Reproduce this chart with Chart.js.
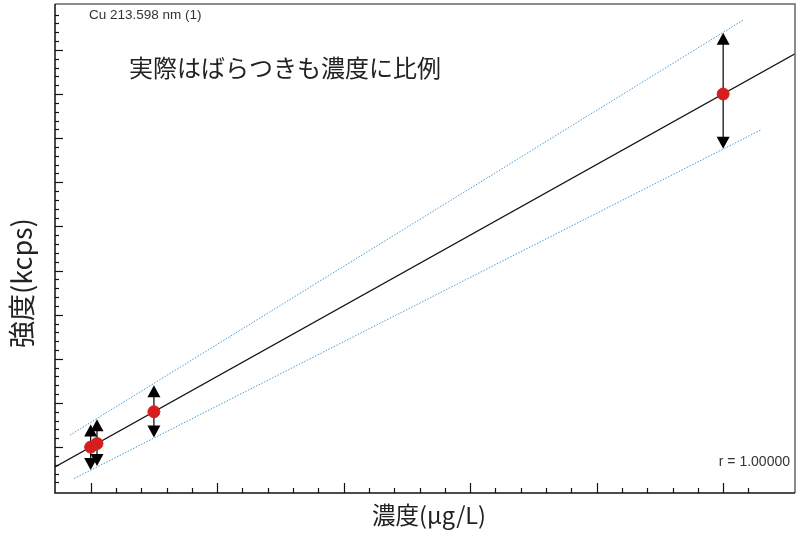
<!DOCTYPE html>
<html>
<head>
<meta charset="utf-8">
<script src="https://cdn.jsdelivr.net/npm/chart.js@4/dist/chart.umd.min.js"></script>
<style>
html,body{margin:0;padding:0;background:#fff;}
#wrap{width:800px;height:544px;position:relative;}
</style>
</head>
<body>
<div id="wrap"><canvas id="c" width="800" height="544"></canvas></div>
<script>
// ---- data ----
const concentrations = [0, 0.05, 0.5, 5];          // μg/L
const intensities    = [10, 10.8, 18, 90];          // kcps
const upperVar       = [15.1, 16.3, 24.0, 103.9];   // arrow tips (up)
const lowerVar       = [4.8, 5.7, 12.2, 77.6];      // arrow tips (down)

const fitX   = [-0.282, 5.568];
const fitY   = [5.49, 99.1];
const upperBandX = [-0.164, 5.16];
const upperBandY = [12.7, 106.8];
const lowerBandX = [-0.13, 5.3];
const lowerBandY = [2.88, 81.9];

const xRange = [-0.282, 5.568];
const yRange = [-0.4, 110.4];
const xMinorStep = 0.2, xMajorStep = 1;
const yMinorStep = 2,   yMajorStep = 10;

const titleText = '実際はばらつきも濃度に比例';
const lineLabel = 'Cu 213.598 nm (1)';
const rLabel = 'r = 1.00000';
const xTitle = '濃度(μg/L)';
const yTitle = '強度(kcps)';

const pts = (xs, ys) => xs.map((x, i) => ({x, y: ys[i]}));

const jp = '"Noto Sans CJK JP", "Noto Sans", sans-serif';

const decor = {
  id: 'decor',
  beforeDatasetsDraw(chart) {
    const {ctx} = chart;
    const xs = chart.scales.x, ys = chart.scales.y;
    ctx.save();
    ctx.strokeStyle = '#000';
    ctx.fillStyle = '#000';
    ctx.lineWidth = 1.2;
    const headH = 12, headW = 6.5;
    concentrations.forEach((c, i) => {
      const px = xs.getPixelForValue(c);
      const pu = ys.getPixelForValue(upperVar[i]);
      const pl = ys.getPixelForValue(lowerVar[i]);
      ctx.beginPath();
      ctx.moveTo(px, pu + headH - 1);
      ctx.lineTo(px, pl - headH + 1);
      ctx.stroke();
      ctx.beginPath();
      ctx.moveTo(px, pu);
      ctx.lineTo(px - headW, pu + headH);
      ctx.lineTo(px + headW, pu + headH);
      ctx.closePath();
      ctx.fill();
      ctx.beginPath();
      ctx.moveTo(px, pl);
      ctx.lineTo(px - headW, pl - headH);
      ctx.lineTo(px + headW, pl - headH);
      ctx.closePath();
      ctx.fill();
    });
    ctx.restore();
  },
  afterDraw(chart) {
    const {ctx, chartArea: a} = chart;
    const xs = chart.scales.x, ys = chart.scales.y;
    ctx.save();
    // frame top / right
    ctx.strokeStyle = '#666';
    ctx.lineWidth = 1.5;
    ctx.beginPath();
    ctx.moveTo(a.left, a.top);
    ctx.lineTo(a.right, a.top);
    ctx.lineTo(a.right, a.bottom);
    ctx.stroke();
    // axes left / bottom
    ctx.strokeStyle = '#111';
    ctx.lineWidth = 1.5;
    ctx.beginPath();
    ctx.moveTo(a.left, a.top);
    ctx.lineTo(a.left, a.bottom);
    ctx.lineTo(a.right, a.bottom);
    ctx.stroke();
    // inward ticks
    ctx.lineWidth = 1.2;
    const near = (v, s) => Math.abs(v / s - Math.round(v / s)) < 1e-6;
    xs.ticks.forEach(t => {
      if (!near(t.value, xMinorStep)) return;
      const px = Math.round(xs.getPixelForValue(t.value)) + 0.5;
      const len = near(t.value, xMajorStep) ? 10 : 5;
      ctx.beginPath();
      ctx.moveTo(px, a.bottom);
      ctx.lineTo(px, a.bottom - len);
      ctx.stroke();
    });
    ys.ticks.forEach(t => {
      if (!near(t.value, yMinorStep)) return;
      const py = Math.round(ys.getPixelForValue(t.value)) + 0.5;
      const len = near(t.value, yMajorStep) ? 8 : 4;
      ctx.beginPath();
      ctx.moveTo(a.left, py);
      ctx.lineTo(a.left + len, py);
      ctx.stroke();
    });
    // texts
    ctx.fillStyle = '#333';
    ctx.font = '13.5px "Liberation Sans", Arial, sans-serif';
    ctx.textBaseline = 'middle';
    ctx.textAlign = 'left';
    ctx.fillText(lineLabel, 89, 15);
    ctx.font = '14px "Liberation Sans", Arial, sans-serif';
    ctx.textAlign = 'right';
    ctx.fillText(rLabel, 790, 462);
    ctx.fillStyle = '#222';
    ctx.font = '24px ' + jp;
    ctx.textAlign = 'left';
    ctx.fillText(titleText, 129, 68);
    ctx.font = '23.5px ' + jp;
    ctx.textAlign = 'center';
    ctx.fillText(xTitle, 429, 515);
    ctx.font = '27px ' + jp;
    ctx.translate(22, 283);
    ctx.rotate(-Math.PI / 2);
    ctx.fillText(yTitle, 0, 0);
    ctx.restore();
  }
};

new Chart(document.getElementById('c'), {
  type: 'scatter',
  data: {
    datasets: [
      {
        label: 'std',
        data: pts(concentrations, intensities),
        backgroundColor: '#d61e1e',
        borderColor: '#d61e1e',
        pointRadius: 6,
        pointHoverRadius: 6,
        showLine: false
      },
      {
        label: 'fit',
        data: pts(fitX, fitY),
        showLine: true,
        borderColor: '#111',
        borderWidth: 1.3,
        pointRadius: 0
      },
      {
        label: 'upper',
        data: pts(upperBandX, upperBandY),
        showLine: true,
        borderColor: '#4b9bd1',
        borderWidth: 1,
        borderDash: [1.5, 1.5],
        pointRadius: 0
      },
      {
        label: 'lower',
        data: pts(lowerBandX, lowerBandY),
        showLine: true,
        borderColor: '#4b9bd1',
        borderWidth: 1,
        borderDash: [1.5, 1.5],
        pointRadius: 0
      }
    ]
  },
  options: {
    responsive: false,
    animation: false,
    events: [],
    layout: {autoPadding: false, padding: {left: 0, top: 4, right: 5, bottom: 0}},
    plugins: {legend: {display: false}, tooltip: {enabled: false}},
    scales: {
      x: {
        type: 'linear',
        min: xRange[0], max: xRange[1],
        ticks: {display: false, stepSize: xMinorStep},
        grid: {display: false},
        border: {display: false},
        afterFit(s) { s.height = 51; }
      },
      y: {
        type: 'linear',
        min: yRange[0], max: yRange[1],
        ticks: {display: false, stepSize: yMinorStep},
        grid: {display: false},
        border: {display: false},
        afterFit(s) { s.width = 55; }
      }
    }
  },
  plugins: [decor]
});
</script>
</body>
</html>
